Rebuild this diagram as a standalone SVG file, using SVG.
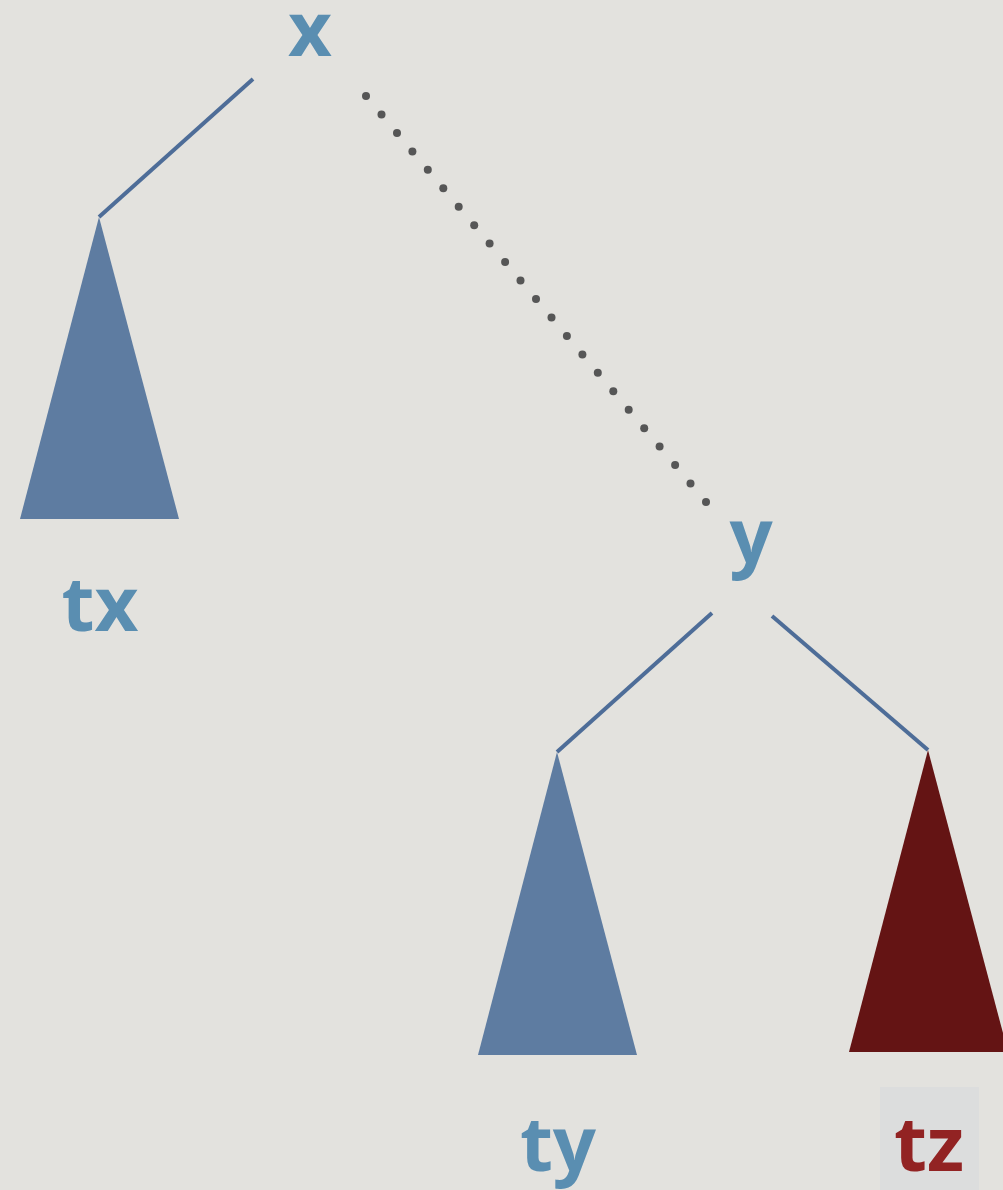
<svg xmlns="http://www.w3.org/2000/svg" width="1003" height="1190" viewBox="0 0 1003 1190">
<style>
.lbl{font-family:"Open Sans","DejaVu Sans",sans-serif;font-weight:bold;font-size:76px;fill:#5a8eb1;text-anchor:middle}
.red{fill:#922323}
.edge{stroke:#4e6d98;stroke-width:4;fill:none}
.tri{fill:#5e7ca1}
.dot{fill:#565656}
</style>
<rect width="1003" height="1190" fill="#e3e2de"/>
<g id="connectors">
<line class="edge" x1="253" y1="79" x2="99" y2="217"/>
<line class="edge" x1="712" y1="613" x2="557" y2="752"/>
<line class="edge" x1="772" y1="616" x2="928" y2="750"/>
<g id="dotted">
<circle class="dot" cx="366" cy="96" r="4"/><circle class="dot" cx="381.5" cy="114.5" r="4"/><circle class="dot" cx="397" cy="133" r="4"/><circle class="dot" cx="412.4" cy="151.4" r="4"/><circle class="dot" cx="427.8" cy="169.8" r="4"/><circle class="dot" cx="443.3" cy="188.3" r="4"/><circle class="dot" cx="458.7" cy="206.7" r="4"/><circle class="dot" cx="474.2" cy="225.2" r="4"/><circle class="dot" cx="489.6" cy="243.6" r="4"/><circle class="dot" cx="505.1" cy="262.1" r="4"/><circle class="dot" cx="520.5" cy="280.5" r="4"/><circle class="dot" cx="536" cy="299" r="4"/><circle class="dot" cx="551.5" cy="317.5" r="4"/><circle class="dot" cx="566.9" cy="335.9" r="4"/><circle class="dot" cx="582.4" cy="354.4" r="4"/><circle class="dot" cx="597.8" cy="372.8" r="4"/><circle class="dot" cx="613.3" cy="391.3" r="4"/><circle class="dot" cx="628.7" cy="409.7" r="4"/><circle class="dot" cx="644.2" cy="428.2" r="4"/><circle class="dot" cx="659.6" cy="446.6" r="4"/><circle class="dot" cx="675.1" cy="465.1" r="4"/><circle class="dot" cx="690.5" cy="483.5" r="4"/><circle class="dot" cx="706" cy="502" r="4"/>
</g>
</g>
<g id="node-x"><text class="lbl" x="310" y="56">x</text></g>
<g id="node-tx"><polygon class="tri" points="99,217 179,519 20,519"/><text class="lbl" x="100" y="631">tx</text></g>
<g id="node-y"><text class="lbl" x="751" y="563">y</text></g>
<g id="node-ty"><polygon class="tri" points="557,752 637,1055 478,1055"/><text class="lbl" x="558" y="1171">ty</text></g>
<g id="node-tz"><polygon fill="#641414" points="928,750 1008,1052 849,1052"/><rect x="880" y="1087" width="99" height="103" fill="#dcdddd"/><text class="lbl red" x="929" y="1171">tz</text></g>
</svg>
